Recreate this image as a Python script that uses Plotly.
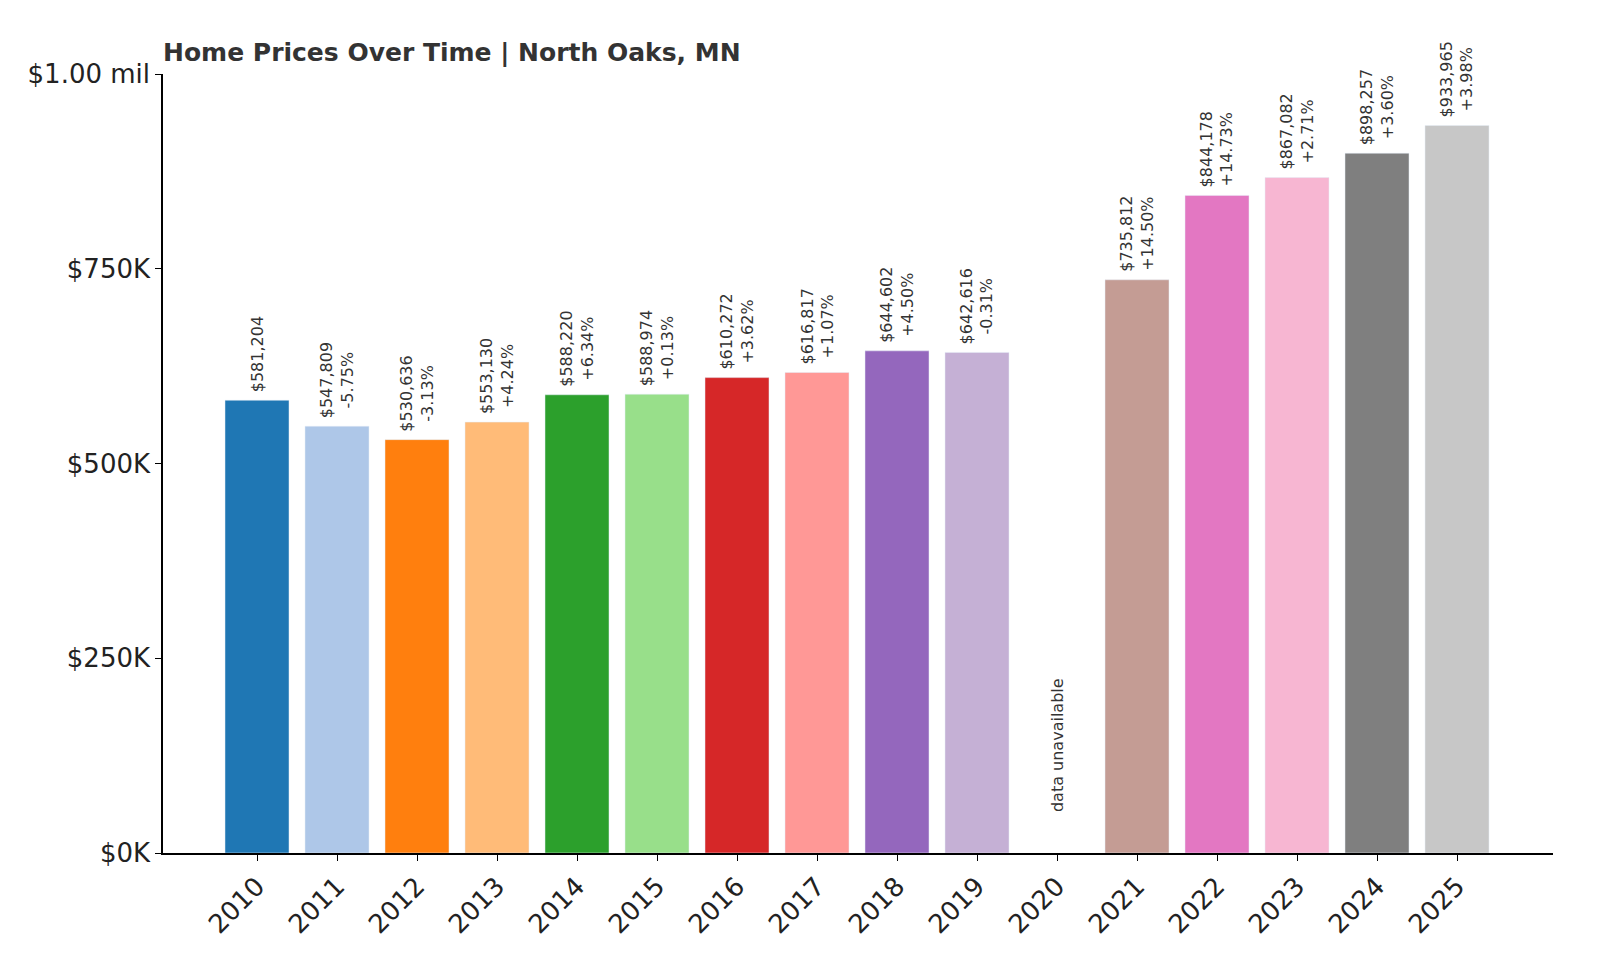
import plotly.graph_objects as go

years = [str(y) for y in range(2010, 2026)]
values = [581204, 547809, 530636, 553130, 588220, 588974, 610272, 616817, 644602, 642616,
          None, 735812, 844178, 867082, 898257, 933965]
changes = ["", "-5.75%", "-3.13%", "+4.24%", "+6.34%", "+0.13%", "+3.62%", "+1.07%", "+4.50%",
           "-0.31%", "", "+14.50%", "+14.73%", "+2.71%", "+3.60%", "+3.98%"]
colors = ["#1f77b4", "#aec7e8", "#ff7f0e", "#ffbb78", "#2ca02c", "#98df8a", "#d62728", "#ff9896",
          "#9467bd", "#c5b0d5", "#8c564b", "#c49c94", "#e377c2", "#f7b6d2", "#7f7f7f", "#c7c7c7"]
tickvals = [0, 250000, 500000, 750000, 1000000]
ticktext = ["$0K", "$250K", "$500K", "$750K", "$1.00 mil"]

fig = go.Figure(go.Bar(x=years, y=values, marker_color=colors, width=0.8, showlegend=False))

for i, (v, c) in enumerate(zip(values, changes)):
    if v is None:
        fig.add_annotation(x=i, y=50000, text="data unavailable", textangle=-90, showarrow=False,
                           xanchor="center", yanchor="bottom",
                           font=dict(family="DejaVu Sans", size=16, color="#333"))
        continue
    txt = f"${v:,.0f}" + (f"<br>{c}" if c else "")
    fig.add_annotation(x=i, y=v, text=txt, textangle=-90, showarrow=False,
                       xanchor="center", yanchor="bottom", yshift=6,
                       font=dict(family="DejaVu Sans", size=16, color="#333"))

fig.update_layout(
    width=1600, height=960, plot_bgcolor="white", paper_bgcolor="white",
    margin=dict(l=155, r=55, t=66, b=115),
    title=dict(text="<b>Home Prices Over Time | North Oaks, MN</b>", x=155/1600, xanchor="left",
               y=1-44/960, yanchor="middle", font=dict(family="DejaVu Sans", size=25, color="#333")),
    font=dict(family="DejaVu Sans", size=26, color="#222"),
    xaxis=dict(type="category", range=[-1.175, 16.2], tickangle=-45, showline=True, linecolor="black",
               linewidth=1.5, ticks="outside", tickcolor="black", ticklen=6),
    yaxis=dict(range=[0, 1000000], tickvals=tickvals, ticktext=ticktext, showline=True,
               linecolor="black", linewidth=1.5, ticks="outside", tickcolor="black", ticklen=6,
               showgrid=False, zeroline=False),
)
fig.write_html("out.html")
